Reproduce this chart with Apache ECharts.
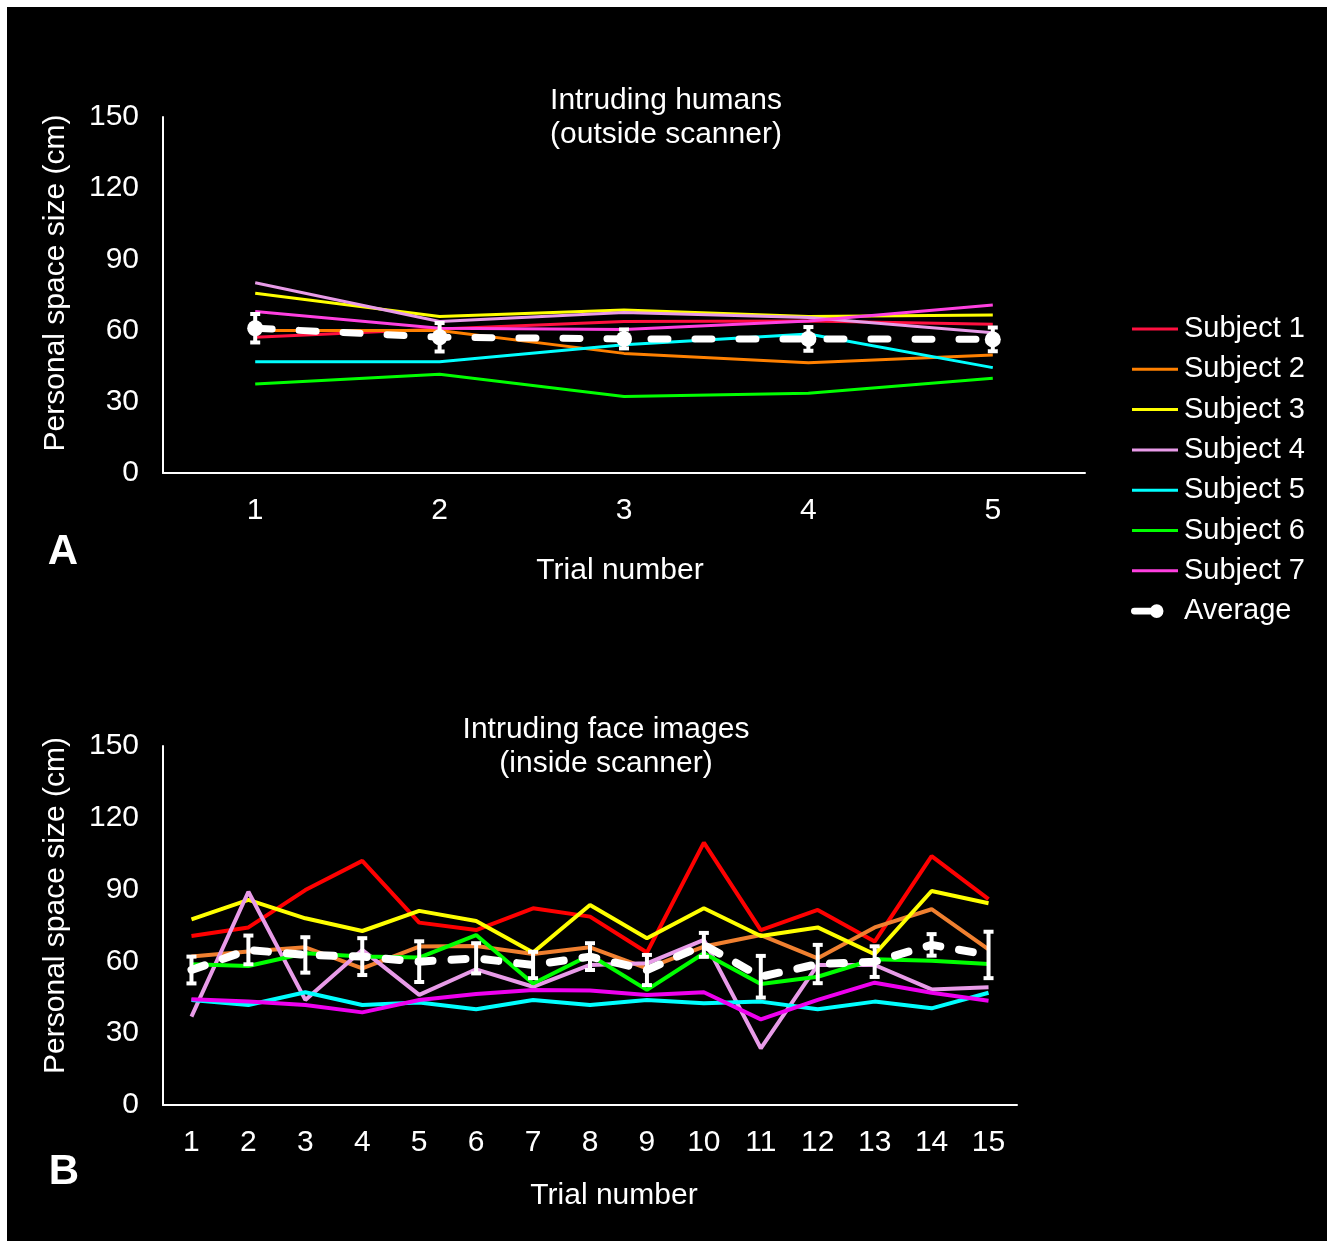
<!DOCTYPE html>
<html>
<head>
<meta charset="utf-8">
<script src="https://cdn.jsdelivr.net/npm/echarts@6/dist/echarts.min.js"></script>
<style>
html,body{margin:0;padding:0;background:#fff;}
#chart{position:absolute;left:0;top:0;width:1331px;height:1241px;}
</style>
</head>
<body>
<div id="chart"></div>
<script>
// ---------- data ----------
const subjectNames = ['Subject 1','Subject 2','Subject 3','Subject 4','Subject 5','Subject 6','Subject 7'];
const yTicks = [0, 30, 60, 90, 120, 150];

// Panel A: intruding humans (outside scanner), 5 trials
const trialsA = ['1','2','3','4','5'];
const s1A = [57.2, 60.7, 63.8, 64.0, 62.7];
const s2A = [60.0, 60.0, 50.4, 46.5, 49.7];
const s3A = [75.7, 65.9, 68.7, 65.9, 66.6];
const s4A = [80.2, 63.8, 67.6, 65.5, 59.1];
const s5A = [46.9, 46.9, 54.0, 58.6, 44.4];
const s6A = [37.5, 41.6, 32.2, 33.6, 39.9];
const s7A = [68.0, 61.0, 60.5, 64.0, 70.8];
const avgA = [61.0, 57.2, 56.5, 56.5, 56.3];
const errA = [6.0, 6.0, 4.0, 5.0, 5.0];

// Panel B: intruding face images (inside scanner), 15 trials
const trialsB = ['1','2','3','4','5','6','7','8','9','10','11','12','13','14','15'];
const s1B = [70.6, 74.2, 89.8, 102.0, 76.2, 73.1, 82.2, 78.7, 63.7, 109.6, 73.1, 81.5, 68.3, 104.0, 86.0];
const s2B = [62.0, 64.1, 65.9, 57.1, 66.2, 66.4, 63.1, 65.9, 57.1, 66.2, 71.0, 61.3, 74.2, 81.8, 65.0];
const s3B = [77.6, 85.7, 78.0, 72.7, 81.1, 76.9, 63.7, 83.6, 69.7, 82.2, 70.6, 74.2, 63.0, 89.4, 84.3];
const s4B = [36.9, 89.1, 43.9, 64.8, 46.0, 56.7, 49.4, 58.5, 59.2, 69.0, 23.7, 58.5, 58.5, 48.3, 49.2];
const s5B = [43.9, 41.8, 47.1, 41.8, 42.8, 40.0, 43.9, 41.8, 43.9, 42.5, 43.2, 40.0, 43.2, 40.4, 46.9];
const s6B = [58.8, 58.1, 63.4, 62.0, 61.6, 71.0, 50.8, 62.7, 48.1, 63.4, 50.6, 53.6, 60.9, 60.3, 58.9];
const s7B = [44.2, 43.2, 41.8, 38.7, 43.9, 46.4, 48.1, 47.8, 46.0, 47.1, 35.8, 43.9, 51.1, 46.9, 43.6];
const avgB = [56.4, 64.8, 62.7, 62.0, 59.9, 61.3, 58.5, 62.0, 56.4, 66.9, 53.6, 58.9, 59.9, 66.9, 62.7];
const errB = [5.6, 6.0, 7.4, 7.7, 8.5, 6.3, 5.5, 5.6, 6.3, 5.0, 8.7, 8.0, 6.4, 4.5, 9.7];

// ---------- styles ----------
const colorsA = ['#FF1040', '#FF8000', '#FFFF00', '#E89BE8', '#00FFFF', '#00FF00', '#FF40E0'];
const colorsB = ['#FF0000', '#F08030', '#FFFF00', '#E89BE8', '#00FFFF', '#00FF00', '#EE00EE'];
const FONT = 'Liberation Sans, Arial, sans-serif';
const FS = 30;

const chart = echarts.init(document.getElementById('chart'));

function yAxis(gridIndex, padLeft) {
  return {
    gridIndex, type: 'value', min: yTicks[0], max: yTicks[yTicks.length - 1], interval: 30,
    name: 'Personal space size (cm)', nameLocation: 'middle', nameGap: 92,
    nameTextStyle: { color: '#fff', fontSize: FS, fontFamily: FONT, padding: [0, 0, 0, padLeft] },
    axisLine: { show: true, lineStyle: { color: '#fff', width: 2 } },
    axisTick: { show: false }, splitLine: { show: false },
    axisLabel: { color: '#fff', fontSize: FS, fontFamily: FONT, margin: 24 }
  };
}
function xAxis(gridIndex, cats, padLeft, gap) {
  return {
    gridIndex, type: 'category', data: cats, boundaryGap: true,
    name: 'Trial number', nameLocation: 'middle', nameGap: gap,
    nameTextStyle: { color: '#fff', fontSize: FS, fontFamily: FONT, padding: [0, 0, 0, padLeft] },
    axisLine: { show: true, lineStyle: { color: '#fff', width: 2 } },
    axisTick: { show: false }, splitLine: { show: false },
    axisLabel: { color: '#fff', fontSize: FS, fontFamily: FONT, margin: 23, interval: 0 }
  };
}

function errRender(params, api) {
  const x = api.value(0), y = api.value(1), e = api.value(2);
  const hi = api.coord([x, y + e]);
  const lo = api.coord([x, y - e]);
  const w = 5;
  const st = { stroke: '#fff', lineWidth: 4 };
  return {
    type: 'group', children: [
      { type: 'line', shape: { x1: hi[0], y1: hi[1], x2: lo[0], y2: lo[1] }, style: st },
      { type: 'line', shape: { x1: hi[0] - w, y1: hi[1], x2: hi[0] + w, y2: hi[1] }, style: st },
      { type: 'line', shape: { x1: lo[0] - w, y1: lo[1], x2: lo[0] + w, y2: lo[1] }, style: st }
    ]
  };
}

const subjA = [s1A, s2A, s3A, s4A, s5A, s6A, s7A];
const subjB = [s1B, s2B, s3B, s4B, s5B, s6B, s7B];
const series = [];
subjA.forEach((d, i) => series.push({
  name: subjectNames[i], type: 'line', xAxisIndex: 0, yAxisIndex: 0, data: d,
  symbol: 'none', lineStyle: { color: colorsA[i], width: 3 }, itemStyle: { color: colorsA[i] }, z: 2
}));
series.push({
  name: 'err A', type: 'custom', xAxisIndex: 0, yAxisIndex: 0, renderItem: errRender,
  data: avgA.map((v, i) => [i, v, errA[i]]), encode: { x: 0, y: 1 }, z: 3, silent: true
});
series.push({
  name: 'Average', type: 'line', xAxisIndex: 0, yAxisIndex: 0, data: avgA,
  symbol: 'circle', symbolSize: 16, showSymbol: true,
  lineStyle: { color: '#fff', width: 7, type: [17, 27], cap: 'round' },
  itemStyle: { color: '#fff' }, z: 4
});
subjB.forEach((d, i) => series.push({
  name: subjectNames[i], type: 'line', xAxisIndex: 1, yAxisIndex: 1, data: d,
  symbol: 'none', lineStyle: { color: colorsB[i], width: 4 }, itemStyle: { color: colorsB[i] }, z: 2
}));
series.push({
  name: 'err B', type: 'custom', xAxisIndex: 1, yAxisIndex: 1, renderItem: errRender,
  data: avgB.map((v, i) => [i, v, errB[i]]), encode: { x: 0, y: 1 }, z: 3, silent: true
});
series.push({
  name: 'Average', type: 'line', xAxisIndex: 1, yAxisIndex: 1, data: avgB,
  symbol: 'none',
  lineStyle: { color: '#fff', width: 8, type: [14, 19], cap: 'round' },
  itemStyle: { color: '#fff' }, z: 4
});

// legend icons: thin line (subjects), line + dot (average); leading moveTo points fix the 48x16 box
const lineIcon = 'path://M0,0M48,16M1,6.5L47,6.5L47,9.5L1,9.5Z';
const avgIcon = 'path://M0,0M48,16M2,4.5L26,4.5A3.5,3.5,0,0,1,26,11.5L2,11.5A3.5,3.5,0,0,1,2,4.5ZM32,8A7,7,0,1,1,18,8A7,7,0,1,1,32,8Z';
const legendData = subjectNames.map((n, i) => ({
  name: n, icon: lineIcon, itemStyle: { color: colorsA[i], borderWidth: 0 }
}));
legendData.push({
  name: 'Average', icon: avgIcon,
  itemStyle: { color: '#fff', borderWidth: 0, borderType: 'solid' },
  lineStyle: { type: 'solid', width: 0 }
});

chart.setOption({
  backgroundColor: '#fff',
  animation: false,
  textStyle: { fontFamily: FONT },
  graphic: [
    { type: 'rect', shape: { x: 7, y: 7, width: 1320, height: 1240 }, style: { fill: '#000' }, z: -10, silent: true },
    { type: 'text', x: 63, y: 552, style: { text: 'A', fill: '#fff', font: 'bold 42px ' + FONT, align: 'center', verticalAlign: 'middle' } },
    { type: 'text', x: 64, y: 1172, style: { text: 'B', fill: '#fff', font: 'bold 42px ' + FONT, align: 'center', verticalAlign: 'middle' } }
  ],
  title: [
    { text: 'Intruding humans\n(outside scanner)', left: 666, top: 84, textAlign: 'center', padding: 0,
      textStyle: { color: '#fff', fontSize: FS, fontWeight: 'normal', lineHeight: 34, fontFamily: FONT } },
    { text: 'Intruding face images\n(inside scanner)', left: 606, top: 713, textAlign: 'center', padding: 0,
      textStyle: { color: '#fff', fontSize: FS, fontWeight: 'normal', lineHeight: 34, fontFamily: FONT } }
  ],
  legend: {
    orient: 'vertical', left: 1131, top: 314, padding: 0, itemWidth: 48, itemHeight: 16, itemGap: 10.3,
    data: legendData,
    textStyle: { color: '#fff', fontSize: 29, lineHeight: 30, fontFamily: FONT }
  },
  grid: [
    { left: 163, top: 117, width: 922, height: 356 },
    { left: 163, top: 746, width: 854, height: 359 }
  ],
  xAxis: [xAxis(0, trialsA, -8, 83), xAxis(1, trialsB, 48, 76)],
  yAxis: [yAxis(0, 24), yAxis(1, 40)],
  series
});
</script>
</body>
</html>
